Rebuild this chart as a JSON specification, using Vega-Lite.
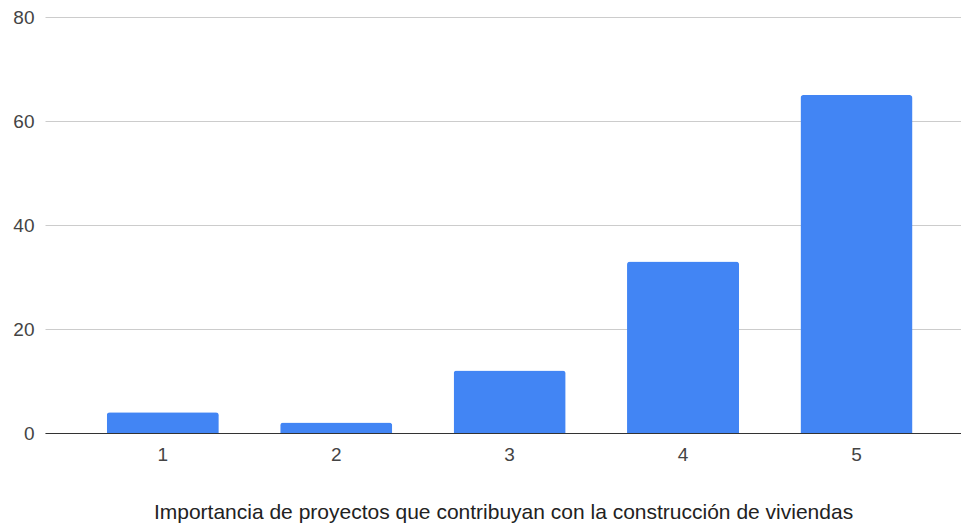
{
  "$schema": "https://vega.github.io/schema/vega-lite/v6.json",
  "autosize": {"type": "none"},
  "width": 916,
  "height": 416,
  "padding": {"left": 45, "top": 17, "right": 0, "bottom": 92},
  "background": "white",
  "config": {
    "view": {"stroke": null},
    "font": "Liberation Sans"
  },
  "data": {
    "values": [
      {"puntaje": "1", "cantidad": 4},
      {"puntaje": "2", "cantidad": 2},
      {"puntaje": "3", "cantidad": 12},
      {"puntaje": "4", "cantidad": 33},
      {"puntaje": "5", "cantidad": 65}
    ]
  },
  "mark": {"type": "bar", "color": "#4285F4", "cornerRadiusTopLeft": 3, "cornerRadiusTopRight": 3},
  "encoding": {
    "x": {
      "field": "puntaje",
      "type": "ordinal",
      "scale": {"paddingInner": 0.354, "paddingOuter": 0.318, "align": 0.56},
      "axis": {
        "title": "Importancia de proyectos que contribuyan con la construcción de viviendas",
        "titleFont": "Liberation Sans",
        "titleFontSize": 21,
        "titleFontWeight": "normal",
        "titleColor": "#222222",
        "titlePadding": 37,
        "labelAngle": 0,
        "labelFontSize": 19,
        "labelColor": "#444444",
        "labelPadding": 12,
        "ticks": false,
        "domainColor": "#333333",
        "domainWidth": 1
      }
    },
    "y": {
      "field": "cantidad",
      "type": "quantitative",
      "scale": {"domain": [0, 80]},
      "axis": {
        "title": null,
        "values": [0, 20, 40, 60, 80],
        "grid": true,
        "gridColor": "#cccccc",
        "domain": false,
        "ticks": false,
        "labelFontSize": 19,
        "labelColor": "#444444",
        "labelPadding": 11
      }
    }
  }
}
